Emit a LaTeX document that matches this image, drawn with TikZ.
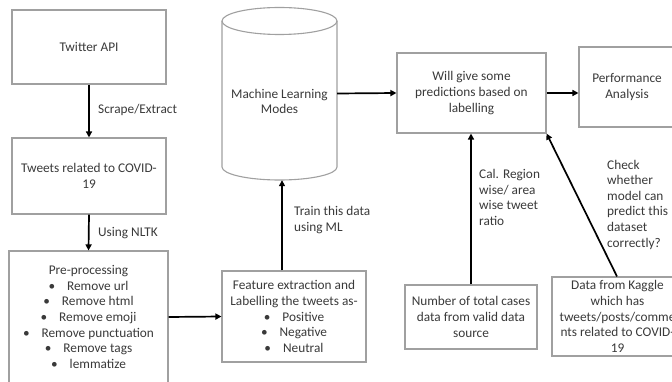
\documentclass[tikz,border=0pt]{standalone}
\usepackage{fontspec}
\setmainfont{Carlito}
\usetikzlibrary{arrows.meta}
\definecolor{boxline}{HTML}{A0A0A0}
\definecolor{txt}{HTML}{3A3A3A}
\newcommand{\bl}{\textbullet\hspace{0.9em}}
\begin{document}
\begin{tikzpicture}[x=1pt,y=-1pt,
  every node/.style={text=txt,font=\fontsize{13.3}{15.6}\selectfont},
  box/.style={draw=boxline,line width=1.1pt,rectangle,inner sep=0pt,align=center},
  frame/.style={rectangle,inner sep=0pt},
  flow/.style={draw=black,line width=1.7pt,-{Triangle[length=6pt,width=6pt]}},
  lbl/.style={anchor=west,align=left,inner sep=0pt}]
\useasboundingbox (0,0) rectangle (672,382);
\clip (0,0) rectangle (672,382);
\fill[white] (0,0) rectangle (672,382);

% process boxes
\node[box,minimum width=154pt,minimum height=74pt] (api) at (89,47) {Twitter API};
\node[box,minimum width=154pt,minimum height=76pt] (tweets) at (89,176) {Tweets related to COVID-\\19};
\node[box,minimum width=159pt,minimum height=132pt] (prep) at (88.5,317)
  {Pre-processing\\ \bl Remove url\\ \bl Remove html\\ \bl Remove emoji\\ \bl Remove punctuation\\ \bl Remove tags\\ \bl lemmatize};
\node[box,minimum width=144pt,minimum height=91pt] (feat) at (294,316.5)
  {Feature extraction and\\Labelling the tweets as-\\ \bl Positive\\ \bl Negative\\ \bl Neutral};
\node[box,minimum width=149pt,minimum height=80pt] (pred) at (471.5,93)
  {Will give some\\predictions based on\\labelling};
\node[box,minimum width=96pt,minimum height=80pt] (perf) at (627,87) {Performance\\Analysis};
\node[box,minimum width=132pt,minimum height=64pt] (cases) at (471,317)
  {Number of total cases\\data from valid data\\source};
\node[box,minimum width=131pt,minimum height=79pt] (kaggle) at (617.5,316.5)
  {Data from Kaggle\\which has\\tweets/posts/comme\\nts related to COVID-\\19};

% cylinder for the model store
\node[frame,minimum width=115pt,minimum height=173pt] (ml) at (279.5,93.5) {};
\draw[boxline,line width=1.1pt,fill=white] (222,21) -- (222,167) arc (180:360:57.5pt and 13pt) -- (337,21);
\draw[boxline,line width=1.1pt] (279.5,21) ellipse (57.5pt and 13.5pt);
\node[align=center] at (279.5,101.5) {Machine Learning\\Modes};

% connectors
\draw[flow] (api.south) -- (tweets.north);
\draw[flow] (tweets.south) -- (prep.north);
\draw[flow] (prep.east) -- (feat.west);
\draw[flow] ([xshift=-12pt]feat.north) -- ([xshift=-12pt]feat.north |- ml.south);
\draw[flow] (ml.east) -- (pred.west);
\draw[flow] (pred.east) -- (pred.east -| perf.west);
\draw[flow] (cases.north) -- (cases.north |- pred.south);
\draw[flow] ([xshift=-0.5pt]kaggle.north) -- (pred.south east);

% connector labels
\node[lbl] (l1) at (98,110) {Scrape/Extract};
\node[lbl] (l2) at (98,233) {Using NLTK};
\node[lbl] (l3) at (294,220) {Train this data\\using ML};
\node[lbl] (l4) at (479,197.5) {Cal. Region\\wise/ area\\wise tweet\\ratio};
\node[lbl] (l5) at (607,204.5) {Check\\whether\\model can\\predict this\\dataset\\correctly?};
\end{tikzpicture}
\end{document}
